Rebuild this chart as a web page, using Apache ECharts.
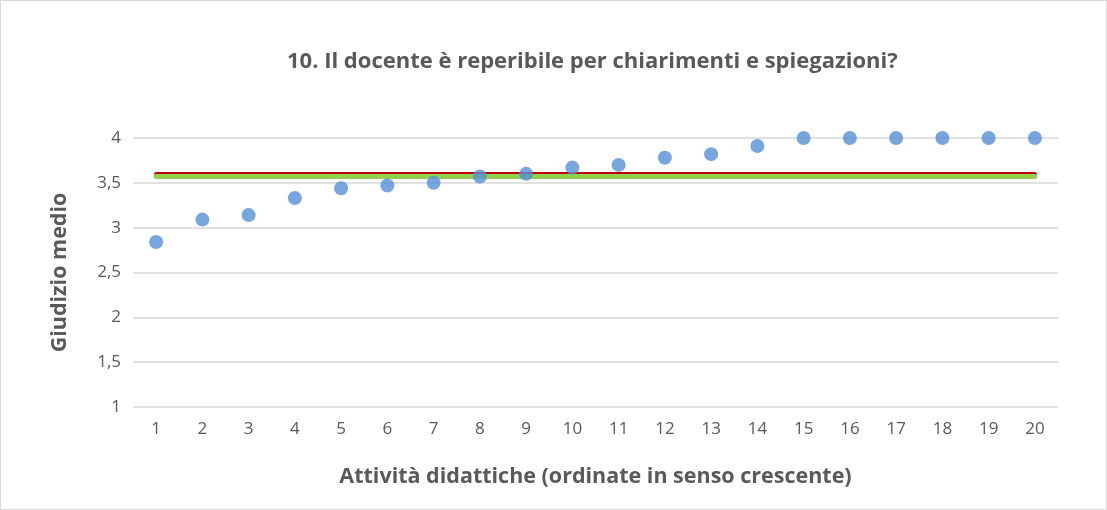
<!DOCTYPE html>
<html>
<head>
<meta charset="utf-8">
<script src="https://cdn.jsdelivr.net/npm/echarts@6/dist/echarts.min.js"></script>
<style>
  html, body { margin: 0; padding: 0; background: #fff; }
  #chart { width: 1105px; height: 508px; border: 1px solid #d9d9d9; }
</style>
</head>
<body>
<div id="chart"></div>
<script>
// 数据
const categories = ['1','2','3','4','5','6','7','8','9','10','11','12','13','14','15','16','17','18','19','20'];
const giudizio = [2.84, 3.09, 3.14, 3.33, 3.44, 3.47, 3.5, 3.57, 3.6, 3.67, 3.7, 3.78, 3.82, 3.91, 4, 4, 4, 4, 4, 4];
const mediaRossa = 3.605;
const mediaVerde = 3.575;
const yTicks = { min: 1, max: 4, step: 0.5 };

const GREY = '#595959';
const FONT = '"Open Sans", "Liberation Sans", sans-serif';

const chart = echarts.init(document.getElementById('chart'), null, { renderer: 'canvas' });

function refLine(val, color, width) {
  return {
    silent: true, symbol: 'none', label: { show: false },
    lineStyle: { color, width, type: 'solid', cap: 'round' },
    data: [[{ coord: [categories[0], val] }, { coord: [categories[categories.length - 1], val] }]],
  };
}

chart.setOption({
  animation: false,
  textStyle: { fontFamily: FONT },
  title: {
    text: '10. Il docente è reperibile per chiarimenti e spiegazioni?',
    left: 281, top: 45,
    textStyle: { color: GREY, fontSize: 22, fontWeight: 'bold', fontFamily: FONT },
  },
  grid: { left: 132, right: 48, top: 137, bottom: 102 },
  xAxis: {
    type: 'category', data: categories, boundaryGap: true,
    name: 'Attività didattiche (ordinate in senso crescente)',
    nameLocation: 'middle', nameGap: 59,
    nameTextStyle: { color: GREY, fontSize: 21.5, fontWeight: 'bold', fontFamily: FONT },
    axisLine: { show: false }, axisTick: { show: false },
    axisLabel: { color: GREY, fontSize: 17, margin: 14 },
  },
  yAxis: {
    type: 'value', min: yTicks.min, max: yTicks.max, interval: yTicks.step,
    name: 'Giudizio medio', nameLocation: 'middle', nameGap: 62,
    nameTextStyle: { color: GREY, fontSize: 21.5, fontWeight: 'bold', fontFamily: FONT },
    axisLine: { show: false }, axisTick: { show: false },
    axisLabel: { color: GREY, fontSize: 17, margin: 12, formatter: (v) => String(v).replace('.', ',') },
    splitLine: { lineStyle: { color: '#d9d9d9', width: 1.5 } },
  },
  series: [
    {
      name: 'rossa', type: 'line', data: [], markLine: refLine(mediaRossa, '#c00000', 4),
    },
    {
      name: 'verde', type: 'line', data: [], markLine: refLine(mediaVerde, '#92d050', 5),
    },
    {
      name: 'Giudizio', type: 'scatter', data: giudizio, symbolSize: 14,
      itemStyle: { color: '#558ed5' }, z: 5,
    },
  ],
});
</script>
</body>
</html>
